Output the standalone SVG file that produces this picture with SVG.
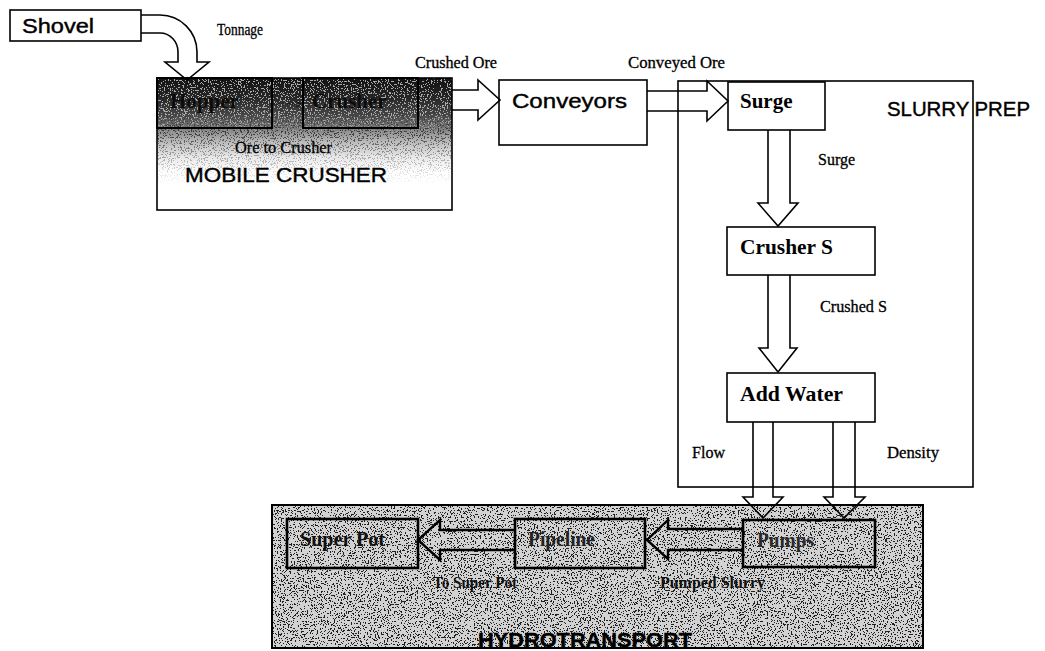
<svg xmlns="http://www.w3.org/2000/svg" width="1045" height="651" viewBox="0 0 1045 651">
<style>
 .box{fill:#fff;stroke:#000;stroke-width:1.6}
 .frame{fill:none;stroke:#000;stroke-width:1.6}
 .hbox{fill:none;stroke:#000;stroke-width:2.6}
 .arr{fill:none;stroke:#000;stroke-width:1.6;stroke-linejoin:miter}
 .arrh{fill:none;stroke:#000;stroke-width:2.4;stroke-linejoin:miter}
 .lbl{font-family:"Liberation Serif",serif;font-size:16px;fill:#000;stroke:#000;stroke-width:0.3}
 .lblb{font-family:"Liberation Serif",serif;font-size:16px;font-weight:bold;fill:#111}
 .nb{font-family:"Liberation Serif",serif;font-size:21px;font-weight:bold;fill:#000}
 .hb{font-family:"Liberation Serif",serif;font-size:20px;font-weight:bold;fill:#111}
 .sans{font-family:"Liberation Sans",Arial,sans-serif;font-size:20px;fill:#000;stroke:#000;stroke-width:0.4}
</style>
<defs>
 <linearGradient id="mcGrad" gradientUnits="userSpaceOnUse" x1="0" y1="78" x2="0" y2="210">
  <stop offset="0" stop-color="#121212"/>
  <stop offset="0.15" stop-color="#262626"/>
  <stop offset="0.28" stop-color="#474747"/>
  <stop offset="0.38" stop-color="#787878"/>
  <stop offset="0.48" stop-color="#b8b8b8"/>
  <stop offset="0.6" stop-color="#e8e8e8"/>
  <stop offset="0.72" stop-color="#ffffff"/>
  <stop offset="1" stop-color="#ffffff"/>
 </linearGradient>
 <linearGradient id="fadeW" gradientUnits="userSpaceOnUse" x1="0" y1="78" x2="0" y2="140">
  <stop offset="0" stop-color="#fff" stop-opacity="0.8"/>
  <stop offset="0.6" stop-color="#fff" stop-opacity="0.7"/>
  <stop offset="1" stop-color="#fff" stop-opacity="0"/>
 </linearGradient>
 <linearGradient id="fadeB" gradientUnits="userSpaceOnUse" x1="0" y1="110" x2="0" y2="185">
  <stop offset="0" stop-color="#fff" stop-opacity="0"/>
  <stop offset="0.3" stop-color="#fff" stop-opacity="0.7"/>
  <stop offset="0.6" stop-color="#fff" stop-opacity="0.35"/>
  <stop offset="1" stop-color="#fff" stop-opacity="0"/>
 </linearGradient>
 <mask id="mW" maskUnits="userSpaceOnUse" x="0" y="0" width="1045" height="651"><rect x="157" y="78" width="295" height="80" fill="url(#fadeW)"/></mask>
 <mask id="mB" maskUnits="userSpaceOnUse" x="0" y="0" width="1045" height="651"><rect x="157" y="100" width="295" height="90" fill="url(#fadeB)"/></mask>
 <filter id="grainB" x="0" y="0" width="1" height="1">
  <feTurbulence type="fractalNoise" baseFrequency="0.7" numOctaves="2" seed="7" result="t"/>
  <feColorMatrix in="t" type="matrix" values="0 0 0 0 0  0 0 0 0 0  0 0 0 0 0  1 0 0 0 0" result="a"/>
  <feComponentTransfer in="a" result="s"><feFuncA type="discrete" tableValues="0 0 0 0 0 0 0.85 0.85 0.85 0.85"/></feComponentTransfer>
  <feComposite in="s" in2="SourceAlpha" operator="in"/>
 </filter>
 <filter id="grainW" x="0" y="0" width="1" height="1">
  <feTurbulence type="fractalNoise" baseFrequency="0.7" numOctaves="2" seed="3" result="t"/>
  <feColorMatrix in="t" type="matrix" values="0 0 0 0 1  0 0 0 0 1  0 0 0 0 1  1 0 0 0 0" result="a"/>
  <feComponentTransfer in="a" result="s"><feFuncA type="discrete" tableValues="0 0 0 0 0 0 0.8 0.8 0.8 0.8"/></feComponentTransfer>
  <feComposite in="s" in2="SourceAlpha" operator="in"/>
 </filter>
 <marker id="sm" markerWidth="6" markerHeight="6" refX="5" refY="3" orient="auto" markerUnits="userSpaceOnUse">
  <path d="M0,0 L5,3 L0,6" fill="none" stroke="#111" stroke-width="1"/>
 </marker>
</defs>
<rect x="0" y="0" width="1045" height="651" fill="#fff"/>

<g id="shovel">
 <rect class="box" x="10" y="10" width="131" height="31"/>
 <text class="sans" x="22" y="33" font-size="18" textLength="72" lengthAdjust="spacingAndGlyphs">Shovel</text>
</g>

<g id="mobile-crusher">
 <rect x="157" y="78" width="295" height="132" fill="url(#mcGrad)"/>
 <rect x="157" y="78" width="295" height="80" fill="#000" filter="url(#grainW)" mask="url(#mW)"/>
 <rect x="157" y="100" width="295" height="90" fill="#000" filter="url(#grainB)" mask="url(#mB)"/>
 <rect class="frame" x="157" y="78" width="295" height="132"/>
 <text class="lbl" x="235" y="153" font-size="15" textLength="97" lengthAdjust="spacingAndGlyphs">Ore to Crusher</text>
 <text class="sans" x="185" y="182" textLength="202" lengthAdjust="spacingAndGlyphs">MOBILE CRUSHER</text>
</g>
<g id="hopper">
 <rect x="157" y="78" width="115" height="50" fill="none" stroke="#000" stroke-width="2"/>
 <text class="nb" x="170" y="108" style="fill:#0c0c0c">Hopper</text>
</g>
<g id="crusher">
 <rect x="303" y="78" width="115" height="50" fill="none" stroke="#000" stroke-width="2"/>
 <text class="nb" x="312" y="108" style="fill:#0c0c0c">Crusher</text>
</g>

<g id="conveyors">
 <rect class="box" x="499" y="80" width="148" height="65"/>
 <text class="sans" x="512" y="108" font-size="20" textLength="115" lengthAdjust="spacingAndGlyphs">Conveyors</text>
</g>

<g id="slurry-prep">
 <rect class="frame" x="678" y="81" width="295" height="406"/>
 <text class="sans" x="887" y="116" textLength="143" lengthAdjust="spacingAndGlyphs">SLURRY PREP</text>
</g>
<g id="surge">
 <rect class="box" x="728" y="82" width="97" height="48"/>
 <text class="nb" x="740" y="108">Surge</text>
</g>
<g id="crusher-s">
 <rect class="box" x="727" y="227" width="148" height="48"/>
 <text class="nb" x="740" y="254" textLength="93" lengthAdjust="spacingAndGlyphs">Crusher S</text>
</g>
<g id="add-water">
 <rect class="box" x="727" y="373" width="148" height="49"/>
 <text class="nb" x="740" y="401" textLength="103" lengthAdjust="spacingAndGlyphs">Add Water</text>
</g>

<g id="hydrotransport">
 <rect x="272" y="505" width="651" height="143" fill="#d2d2d2"/>
 <rect x="272" y="505" width="651" height="143" fill="#000" filter="url(#grainB)"/>
 <rect x="272" y="505" width="651" height="143" fill="none" stroke="#000" stroke-width="2"/>
 <text class="sans" x="478" y="647" font-weight="bold" textLength="214" lengthAdjust="spacingAndGlyphs">HYDROTRANSPORT</text>
</g>
<g id="super-pot">
 <rect class="hbox" x="287" y="519" width="131" height="49"/>
 <text class="hb" x="300" y="546" textLength="85" lengthAdjust="spacingAndGlyphs">Super Pot</text>
</g>
<g id="pipeline">
 <rect class="hbox" x="515" y="519" width="130" height="49"/>
 <text class="hb" x="528" y="546" textLength="67" lengthAdjust="spacingAndGlyphs" style="fill:#222">Pipeline</text>
</g>
<g id="pumps">
 <rect class="hbox" x="743" y="520" width="132" height="47"/>
 <text class="hb" x="757" y="547" textLength="57" lengthAdjust="spacingAndGlyphs" style="fill:#2a2a2a">Pumps</text>
</g>

<g id="connectors">
 <path class="arr" d="M141,15 H160 A37,37 0 0 1 197,52 V62 H209 L187,80 L165,62 H178 V52 A18,19 0 0 0 160,33 H141"/>
 <text class="lbl" x="217" y="35" font-size="14" textLength="46" lengthAdjust="spacingAndGlyphs">Tonnage</text>
 <path d="M272,104 H301" stroke="#111" stroke-width="1.2" stroke-dasharray="3,2" fill="none" marker-end="url(#sm)"/>
 <path class="arr" d="M452,90 H478 V80 L500,100 L478,120 V110 H452"/>
 <text class="lbl" x="415" y="68" textLength="82" lengthAdjust="spacingAndGlyphs">Crushed Ore</text>
 <path class="arr" d="M647,91 H707 V81 L728,101 L707,121 V111 H647"/>
 <text class="lbl" x="628" y="68" textLength="97" lengthAdjust="spacingAndGlyphs">Conveyed Ore</text>
 <path class="arr" d="M768,130 V203 H758 L778,226 L798,203 H790 V130"/>
 <text class="lbl" x="818" y="165" font-size="15">Surge</text>
 <path class="arr" d="M768,275 V348 H759 L778,372 L797,348 H790 V275"/>
 <text class="lbl" x="820" y="312" textLength="67" lengthAdjust="spacingAndGlyphs">Crushed S</text>
 <path class="arr" d="M753,422 V497 H743 L763,518 L783,497 H773 V422"/>
 <text class="lbl" x="692" y="458" textLength="33" lengthAdjust="spacingAndGlyphs">Flow</text>
 <path class="arr" d="M833,422 V497 H824 L844,518 L865,497 H855 V422"/>
 <text class="lbl" x="887" y="458" textLength="52" lengthAdjust="spacingAndGlyphs">Density</text>
 <path class="arrh" d="M743,529 H668 V520 L647,540 L668,559 V550 H743"/>
 <text class="lblb" x="660" y="588" textLength="105" lengthAdjust="spacingAndGlyphs">Pumped Slurry</text>
 <path class="arrh" d="M515,530 H440 V520 L418,540 L440,560 V550 H515"/>
 <text class="lblb" x="433" y="588" font-size="15" textLength="84" lengthAdjust="spacingAndGlyphs">To Super Pot</text>
</g>
</svg>
